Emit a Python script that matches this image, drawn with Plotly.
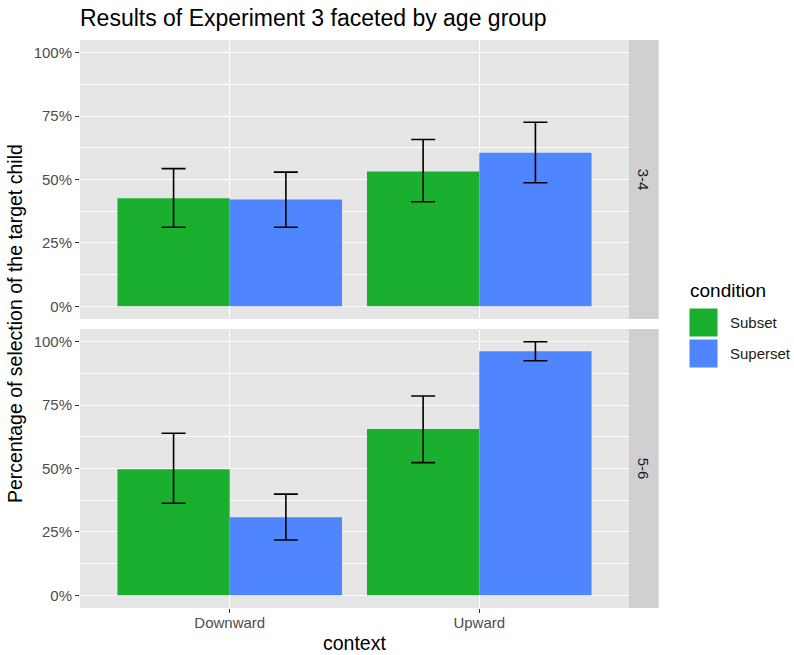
import plotly.graph_objects as go
from plotly.subplots import make_subplots

contexts = ["Downward", "Upward"]
conditions = ["Subset", "Superset"]
age_groups = ["3-4", "5-6"]

# mean, upper, lower (proportions) per age group -> condition -> [Downward, Upward]
means = {
    "3-4": {"Subset": [0.426, 0.532], "Superset": [0.421, 0.605]},
    "5-6": {"Subset": [0.497, 0.656], "Superset": [0.308, 0.962]},
}
upper = {
    "3-4": {"Subset": [0.543, 0.658], "Superset": [0.529, 0.726]},
    "5-6": {"Subset": [0.639, 0.786], "Superset": [0.399, 1.000]},
}
lower = {
    "3-4": {"Subset": [0.312, 0.412], "Superset": [0.312, 0.487]},
    "5-6": {"Subset": [0.363, 0.523], "Superset": [0.218, 0.925]},
}

colors = {"Subset": "#1AAF2E", "Superset": "#4F86FF"}
FONT = "Liberation Sans, Arial, Helvetica, sans-serif"

W, H = 794, 655
L, R, T, B = 80, 629, 40, 608
pw, ph = R - L, B - T
gap = 10
panel_h = (ph - gap) / 2

fig = make_subplots(rows=2, cols=1, shared_xaxes=True,
                    vertical_spacing=gap / ph)

for i, ag in enumerate(age_groups):
    for cond in conditions:
        m = means[ag][cond]
        up = [u - v for u, v in zip(upper[ag][cond], m)]
        lo = [v - l for v, l in zip(m, lower[ag][cond])]
        fig.add_trace(go.Bar(
            x=contexts, y=m, name=cond, marker_color=colors[cond],
            marker_line_width=0, showlegend=False,
            error_y=dict(type="data", array=up, arrayminus=lo,
                         color="black", thickness=1.6, width=12),
        ), row=i + 1, col=1)

fig.update_layout(
    width=W, height=H,
    margin=dict(l=L, r=W - R, t=T, b=H - B),
    paper_bgcolor="white", plot_bgcolor="#E6E6E6",
    barmode="group", bargap=0.1, bargroupgap=0,
    font=dict(family=FONT, color="#4D4D4D"),
    title=dict(text="Results of Experiment 3 faceted by age group",
               x=L / W, xanchor="left", y=1 - 18 / H, yanchor="middle",
               font=dict(size=23, color="black", family=FONT)),
)

yax = dict(range=[-0.05, 1.05], tickvals=[0, 0.25, 0.5, 0.75, 1.0],
           tickformat=".0%", showgrid=True, gridcolor="white", gridwidth=1.3,
           ticks="outside", ticklen=4, tickcolor="#333333", tickwidth=1,
           tickfont=dict(size=15, color="#4D4D4D"), zeroline=False,
           minor=dict(tickvals=[0.125, 0.375, 0.625, 0.875], showgrid=True,
                      gridcolor="white", gridwidth=0.7, ticks=""))
fig.update_yaxes(**yax)
xax = dict(range=[-0.6, 1.6], showgrid=True, gridcolor="white", gridwidth=1.3,
           ticks="outside", ticklen=4, tickcolor="#333333",
           ticklabelstandoff=-3,
           tickfont=dict(size=15, color="#4D4D4D"), zeroline=False)
fig.update_xaxes(**xax)
fig.update_xaxes(ticks="", showticklabels=False, row=1, col=1)

# strips
for i, ag in enumerate(age_groups):
    y1 = 1 - (i * (panel_h + gap)) / ph
    y0 = y1 - panel_h / ph
    fig.add_shape(type="rect", xref="paper", yref="paper",
                  x0=1.0, x1=1 + 29.7 / pw, y0=y0, y1=y1,
                  fillcolor="#D0D0D0", line_width=0, layer="below")
    fig.add_annotation(text=ag, xref="paper", yref="paper",
                       x=1 + 14.85 / pw, y=(y0 + y1) / 2, showarrow=False,
                       xanchor="center", yanchor="middle",
                       textangle=90, font=dict(size=15, color="#1A1A1A"))

# axis titles
fig.add_annotation(text="Percentage of selection of the target child",
                   xref="paper", yref="paper", x=(15 - L) / pw, y=0.5,
                   xanchor="center", yanchor="middle",
                   showarrow=False, textangle=-90,
                   font=dict(size=19.5, color="black"))
fig.add_annotation(text="context", xref="paper", yref="paper",
                   x=0.5, y=(B - 643) / ph, showarrow=False,
                   xanchor="center", yanchor="middle",
                   font=dict(size=19.5, color="black"))

# legend (drawn manually, ggplot style)
def px_x(x):
    return (x - L) / pw

def px_y(y):
    return (B - y) / ph

fig.add_annotation(text="condition", xref="paper", yref="paper",
                   x=px_x(688), y=px_y(290), xanchor="left", yanchor="middle",
                   showarrow=False, font=dict(size=19, color="black"))
key_tops = [308.5, 339.5]
for cond, kt in zip(conditions, key_tops):
    fig.add_shape(type="rect", xref="paper", yref="paper",
                  x0=px_x(689.5), x1=px_x(717.5), y0=px_y(kt + 28), y1=px_y(kt),
                  fillcolor=colors[cond], line_width=0)
    fig.add_annotation(text=cond, xref="paper", yref="paper",
                       x=px_x(728), y=px_y(kt + 14), xanchor="left",
                       yanchor="middle", showarrow=False,
                       font=dict(size=15, color="#1A1A1A"))

fig.write_html("out.html")
